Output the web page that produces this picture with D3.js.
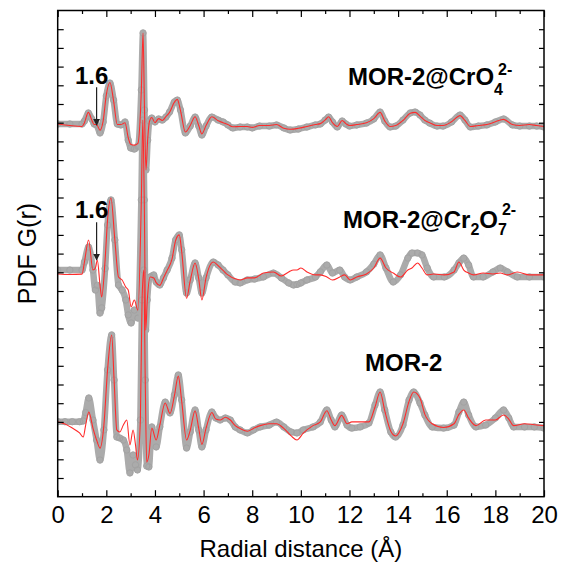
<!DOCTYPE html>
<html><head><meta charset="utf-8">
<script src="https://cdn.jsdelivr.net/npm/d3@7"></script>
<style>body{margin:0;background:#fff}svg{display:block}text{font-family:"Liberation Sans",Arial,sans-serif}</style>
</head><body><svg id="c" width="562" height="566"></svg>
<script>
// ---- data (G(r) relative to each curve's offset) ----
const rTop = [0,0.5,1.0,1.1,1.26,1.4,1.5,1.6,1.74,1.87,2.0,2.15,2.3,2.45,2.6,2.77,2.9,3.0,3.15,3.3,3.44,3.51,3.57,3.63,3.7,3.77,3.87,4.0,4.15,4.3,4.45,4.6,4.8,4.92,5.05,5.25,5.45,5.65,5.8,5.93,6.1,6.34,6.6,6.8,7.0,7.2,7.5,7.8,8.0,8.3,8.7,9.0,9.3,9.56,9.9,10.25,10.6,10.8,11.0,11.14,11.3,11.5,11.7,11.85,12.0,12.3,12.7,13.0,13.26,13.45,13.67,13.9,14.2,14.5,14.7,14.9,15.1,15.3,15.6,15.85,16.2,16.55,16.75,16.97,17.3,17.65,18.0,18.34,18.7,19.0,19.4,19.7,20.0];
const gTopObs = [-0.07,-0.07,-0.07,0.09,0.52,0.20,-0.07,-0.12,-0.55,0.04,1.43,2.12,1.21,-0.07,-0.12,0.04,-0.93,-1.35,-1.41,-1.25,1.75,4.80,0.68,-2.53,-0.93,0.09,0.25,0.04,0.20,0.14,0.30,0.57,1.11,1.21,0.68,-0.55,-0.18,0.30,-0.18,-0.66,-0.18,0.30,0.14,0.04,-0.12,-0.28,-0.23,-0.23,-0.28,-0.18,-0.18,-0.12,-0.28,-0.39,-0.34,-0.23,-0.12,-0.07,0.14,0.30,0.04,-0.23,0.09,-0.07,-0.18,-0.12,-0.02,0.20,0.57,0.09,-0.23,-0.18,0.14,0.52,0.57,0.41,0.14,-0.02,-0.18,-0.18,0.04,0.41,0.14,-0.23,-0.18,-0.12,0.04,0.20,-0.12,-0.18,-0.18,-0.18,-0.23];
const gTopFit = [-0.07,-0.15,-0.2,0.0,0.55,0.15,-0.1,-0.1,-0.4,0.1,1.5,2.15,1.15,-0.1,-0.1,0.0,-0.8,-1.15,-1.2,-1.1,1.75,4.80,0.68,-2.53,-0.9,0.05,0.28,0.0,0.22,0.12,0.32,0.55,1.1,1.25,0.65,-0.5,-0.15,0.32,-0.15,-0.6,-0.15,0.32,0.1,0.0,-0.1,-0.22,-0.2,-0.2,-0.25,-0.15,-0.15,-0.1,-0.3,-0.35,-0.3,-0.2,-0.1,-0.05,0.15,0.32,0.0,-0.2,0.12,-0.05,-0.15,-0.1,0.0,0.22,0.55,0.1,-0.2,-0.15,0.12,0.5,0.55,0.35,0.12,0.0,-0.15,-0.15,0.05,0.38,0.12,-0.2,-0.15,-0.1,0.05,0.18,-0.1,-0.15,-0.1,-0.15,-0.2];

const rMid = [0,0.5,1.0,1.1,1.27,1.45,1.55,1.63,1.74,1.81,1.95,2.05,2.19,2.35,2.5,2.65,2.8,2.9,3.02,3.15,3.3,3.44,3.5,3.56,3.62,3.68,3.8,3.95,4.05,4.2,4.35,4.5,4.7,4.85,5.0,5.1,5.3,5.45,5.65,5.8,5.93,6.1,6.4,6.6,6.8,7.0,7.3,7.5,7.8,8.1,8.46,8.87,9.2,9.5,9.7,9.84,10.0,10.25,10.6,10.8,11.07,11.3,11.6,11.8,12.03,12.3,12.7,13.0,13.26,13.5,13.8,14.1,14.4,14.57,14.8,14.98,15.2,15.46,15.9,16.3,16.5,16.7,16.9,17.1,17.5,17.9,18.2,18.5,18.9,19.4,20.0];
const gMidObs = [0.12,0.12,0.12,0.55,1.35,0.12,-0.95,-0.7,-2.18,-1.9,0.2,2.53,3.87,1.73,-0.68,-0.95,-1.48,-2.28,-2.71,-2.02,-2.45,3.87,8.14,3.87,-3.09,-1.48,-0.25,-0.14,-0.52,-0.68,-0.30,0.12,0.76,1.73,2.0,1.2,-1.11,-0.41,0.5,-0.3,-1.11,-0.3,0.55,0.39,0.12,-0.14,-0.52,-0.57,-0.41,-0.36,-0.25,-0.04,-0.30,-0.57,-0.68,-0.65,-0.57,-0.41,-0.25,0.02,0.39,-0.04,0.12,-0.25,-0.41,-0.25,0.02,0.44,0.93,0.23,-0.52,-0.14,0.76,1.03,1.03,0.93,0.23,-0.25,-0.25,0.12,0.5,0.76,0.39,-0.25,-0.25,0.02,0.23,0.02,-0.25,-0.25,-0.25];
const gMidFit = [-0.09,-0.12,-0.1,0.55,1.73,0.12,0.23,0.66,-0.68,-1.32,0.66,2.8,3.97,1.73,-0.25,-0.41,-0.79,-0.95,-1.85,-1.48,-2.02,3.87,8.14,3.87,-3.09,-1.6,-0.25,-0.3,-0.55,-0.7,-0.3,0.1,0.7,1.7,2.0,1.1,-1.39,-0.45,0.5,-0.35,-1.48,-0.3,0.55,0.35,0.1,-0.14,-0.35,-0.41,-0.3,-0.3,-0.04,0.02,-0.2,0.02,0.12,0.12,0.23,0.02,-0.14,-0.14,-0.25,-0.41,-0.25,-0.14,-0.41,-0.25,-0.09,0.23,0.76,0.23,-0.04,-0.25,0.12,0.23,0.5,0.23,-0.14,-0.09,-0.14,0.02,0.55,0.12,-0.04,-0.14,-0.04,-0.09,-0.04,-0.14,0.02,-0.14,-0.14];

const rBot = [0,0.3,0.6,0.9,1.05,1.15,1.28,1.45,1.6,1.74,1.9,2.05,2.22,2.32,2.43,2.55,2.7,2.84,2.97,3.1,3.2,3.28,3.4,3.47,3.54,3.6,3.66,3.75,3.87,4.05,4.2,4.42,4.62,4.8,4.96,5.1,5.3,5.45,5.65,5.8,5.93,6.1,6.34,6.5,6.68,6.9,7.1,7.3,7.5,7.8,8.05,8.33,8.7,9.0,9.3,9.6,9.84,10.1,10.5,10.8,11.07,11.25,11.4,11.68,11.9,12.1,12.44,12.8,13.05,13.26,13.45,13.7,13.9,14.2,14.45,14.64,14.9,15.1,15.4,15.87,16.3,16.5,16.7,16.9,17.2,17.6,18.0,18.34,18.55,18.75,19.2,19.6,20.0];
const gBotObs = [0.01,0.01,0.01,0.01,0.05,0.5,1.28,0.1,-0.97,-2.04,-0.43,2.78,4.65,2.24,-0.81,-0.86,-0.97,-1.5,-2.73,-1.77,-2.3,-2.57,0.1,6.52,8.12,2.24,-2.36,-2.41,-0.27,-1.34,-0.27,1.06,0.48,1.44,2.51,1.17,-1.4,-0.54,0.64,-0.43,-1.34,-0.43,0.53,0.21,0.1,0.21,0.1,-0.27,-0.43,-0.59,-0.43,-0.27,-0.17,-0.01,-0.27,-0.54,-0.59,-0.43,-0.27,-0.01,0.64,0.1,-0.27,0.37,-0.17,-0.33,-0.27,-0.06,0.9,1.6,0.64,-0.54,-0.81,-0.17,1.17,1.6,1.01,0.37,-0.27,-0.33,-0.17,0.53,1.06,0.37,-0.27,-0.17,0.21,0.64,0.21,-0.27,-0.27,-0.27,-0.33];
const gBotFit = [0.01,-0.11,-0.33,-0.59,-0.81,-0.17,0.53,-0.33,-0.97,-1.4,-0.17,2.78,4.65,2.24,-0.43,-0.54,-0.17,0.1,-1.23,-0.43,-1.23,-2.04,0.1,6.52,8.12,2.24,-2.15,-1.77,-0.33,-0.97,-0.17,1.01,0.45,1.4,2.45,1.1,-0.97,-0.45,0.6,-0.35,-1.2,-0.35,0.5,0.15,0.1,0.25,0.1,-0.2,-0.35,-0.5,-0.35,-0.2,-0.1,-0.1,-0.35,-0.75,-0.97,-0.6,-0.2,0.0,0.6,0.1,-0.2,0.35,-0.1,0.0,0.0,0.0,0.8,1.6,0.6,-0.5,-0.75,-0.1,1.1,1.6,1.28,0.4,-0.1,-0.3,-0.1,0.4,0.64,0.2,-0.2,0.1,0.1,0.37,0.15,-0.2,-0.1,-0.15,-0.2];

const offsets = [20, 12, 4];
const sampleNames = ["MOR-2@CrO4", "MOR-2@Cr2O7", "MOR-2"];
const xMajorTicks = [0,2,4,6,8,10,12,14,16,18,20];
const xMinorTicks = [1,3,5,7,9,11,13,15,17,19];
const yTickValues = d3.range(1, 26);
const peakMark = 1.6;

// ---- drawing ----
const svg = d3.select('#c');
const x = d3.scaleLinear().domain([0, 20]).range([57.7, 544]);
const y = d3.scaleLinear().domain([0, 26]).range([496.7, 10.5]);
const [X0, X1] = x.range(); const [Y1, Y0] = y.range();

svg.append('defs').append('clipPath').attr('id', 'clip')
  .append('rect').attr('x', X0).attr('y', Y0).attr('width', X1 - X0).attr('height', Y1 - Y0);
svg.select('defs').append('marker').attr('id', 'arr').attr('viewBox', '0 0 10 10')
  .attr('refX', 9).attr('refY', 5).attr('markerWidth', 7).attr('markerHeight', 7)
  .attr('markerUnits', 'userSpaceOnUse').attr('orient', 'auto')
  .append('path').attr('d', 'M0,0L10,5L0,10z').attr('fill', '#222');

const series = [
  {r: rTop, obs: gTopObs, fit: gTopFit, off: offsets[0]},
  {r: rMid, obs: gMidObs, fit: gMidFit, off: offsets[1]},
  {r: rBot, obs: gBotObs, fit: gBotFit, off: offsets[2]},
];

const plot = svg.append('g').attr('clip-path', 'url(#clip)');
series.forEach(s => {
  const obs = s.r.map((r, i) => [r, s.obs[i] + s.off]);
  const fit = s.r.map((r, i) => [r, s.fit[i] + s.off]);
  const line = d3.line().x(d => x(d[0])).y(d => y(d[1])).curve(d3.curveMonotoneX);
  plot.append('path').datum(obs).attr('d', line).attr('fill', 'none')
    .attr('stroke', '#ababab').attr('stroke-width', 6.5).attr('stroke-linejoin', 'round');
  plot.append('g').selectAll('circle').data(obs).join('circle')
    .attr('cx', d => x(d[0])).attr('cy', d => y(d[1])).attr('r', 3.2)
    .attr('fill', 'none').attr('stroke', '#a2a2a2').attr('stroke-width', 1);
  s.fitData = fit; s.line = line;
});
series.forEach(s => {
  plot.append('path').datum(s.fitData).attr('d', s.line).attr('fill', 'none')
    .attr('stroke', '#ff2b2b').attr('stroke-width', 1.1);
});

// axes (ticks inward)
function styleAxis(g) { g.select('.domain').remove(); g.selectAll('line').attr('stroke', '#000').attr('stroke-width', 1.2); }
svg.append('g').attr('transform', `translate(0,${Y1})`)
  .call(d3.axisBottom(x).tickValues(xMajorTicks).tickSizeInner(-6.5).tickSizeOuter(0).tickPadding(9).tickFormat(d3.format('d')))
  .call(styleAxis)
  .selectAll('text').attr('font-size', 24).attr('fill', '#000');
svg.append('g').attr('transform', `translate(0,${Y1})`)
  .call(d3.axisBottom(x).tickValues(xMinorTicks).tickSizeInner(-3.5).tickSizeOuter(0).tickFormat(''))
  .call(styleAxis);
svg.append('g').attr('transform', `translate(0,${Y0})`)
  .call(d3.axisTop(x).tickValues(xMajorTicks).tickSizeInner(-6.5).tickSizeOuter(0).tickFormat(''))
  .call(styleAxis);
svg.append('g').attr('transform', `translate(0,${Y0})`)
  .call(d3.axisTop(x).tickValues(xMinorTicks).tickSizeInner(-3.5).tickSizeOuter(0).tickFormat(''))
  .call(styleAxis);
svg.append('g').attr('transform', `translate(${X0},0)`)
  .call(d3.axisLeft(y).tickValues(yTickValues).tickSizeInner(-6).tickSizeOuter(0).tickFormat(''))
  .call(styleAxis);
svg.append('g').attr('transform', `translate(${X1},0)`)
  .call(d3.axisRight(y).tickValues(yTickValues).tickSizeInner(-5).tickSizeOuter(0).tickFormat(''))
  .call(styleAxis);

svg.append('rect').attr('x', X0).attr('y', Y0).attr('width', X1 - X0).attr('height', Y1 - Y0)
  .attr('fill', 'none').attr('stroke', '#000').attr('stroke-width', 1.5);

// axis titles
svg.append('text').attr('x', (X0 + X1) / 2).attr('y', 557).attr('text-anchor', 'middle')
  .attr('font-size', 24).text('Radial distance (Å)');
svg.append('text').attr('transform', `translate(36,${(Y0 + Y1) / 2}) rotate(-90)`)
  .attr('text-anchor', 'middle').attr('font-size', 25).text('PDF G(r)');

// sample labels
function label(xp, yp, parts) {
  const t = svg.append('text').attr('x', xp).attr('y', yp).attr('font-size', 24).attr('font-weight', 'bold');
  parts.forEach(p => {
    const ts = t.append('tspan').text(p.t);
    if (p.fs) ts.attr('font-size', p.fs);
    if (p.dy) ts.attr('dy', p.dy);
    if (p.dx) ts.attr('dx', p.dx);
  });
}
label(348, 85, [{t: 'MOR-2@CrO'}, {t: '4', fs: 16, dy: 10}, {t: '2-', fs: 16, dx: -5, dy: -20}]);
label(343, 228, [{t: 'MOR-2@Cr'}, {t: '2', fs: 16, dy: 7}, {t: 'O', dy: -7}, {t: '7', fs: 16, dy: 7}, {t: '2-', fs: 16, dx: -5, dy: -20}]);
label(365, 371, [{t: sampleNames[2]}]);

// 1.6 annotations
[[22.05, 21.9, 19.87], [14.9, 14.68, 12.66]].forEach(([ty, a0, a1]) => {
  svg.append('text').attr('x', x(peakMark) - 5).attr('y', y(ty)).attr('text-anchor', 'middle')
    .attr('font-size', 24).attr('font-weight', 'bold').text(String(peakMark));
  svg.append('line').attr('x1', x(peakMark)).attr('x2', x(peakMark)).attr('y1', y(a0)).attr('y2', y(a1))
    .attr('stroke', '#222').attr('stroke-width', 1.2).attr('marker-end', 'url(#arr)');
});
</script></body></html>
